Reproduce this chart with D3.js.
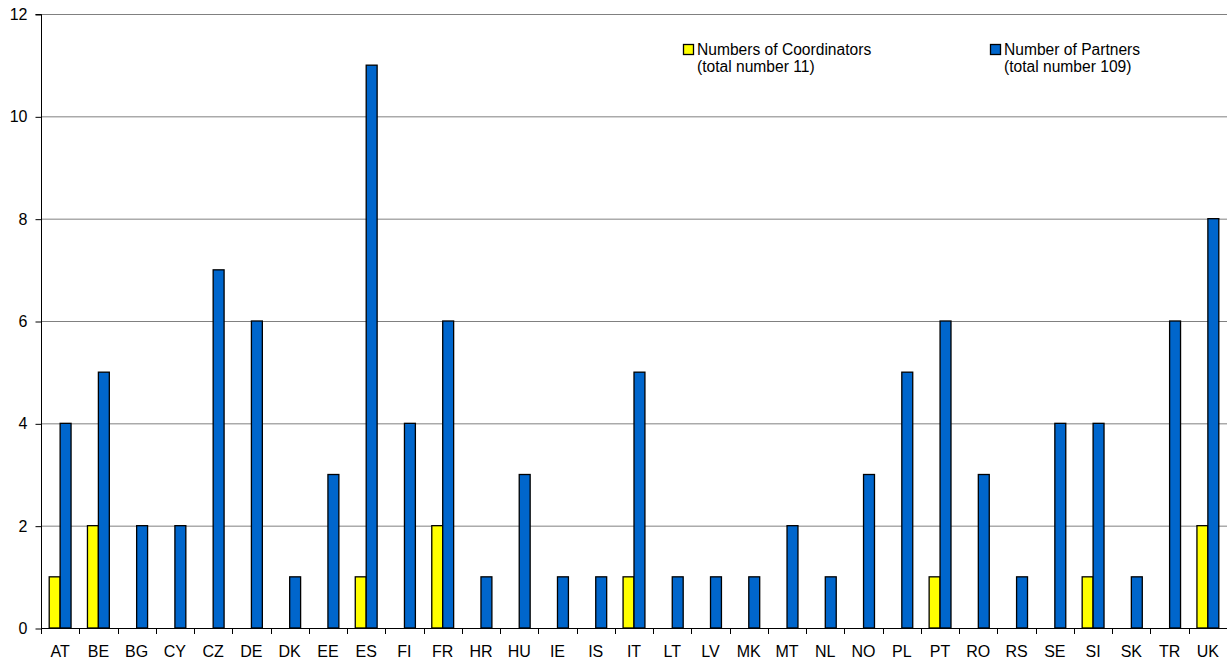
<!DOCTYPE html>
<html>
<head>
<meta charset="utf-8">
<script src="https://cdn.jsdelivr.net/npm/d3@7.9.0/dist/d3.min.js"></script>
<style>
  body { margin: 0; background: #fff; }
  svg { display: block; font-family: "Liberation Sans", Arial, sans-serif; }
</style>
</head>
<body>
<svg width="1228" height="664"></svg>
<script>
const countries = ['AT','BE','BG','CY','CZ','DE','DK','EE','ES','FI','FR','HR','HU','IE','IS','IT','LT','LV','MK','MT','NL','NO','PL','PT','RO','RS','SE','SI','SK','TR','UK'];
const coordinators = [1,2,0,0,0,0,0,0,1,0,2,0,0,0,0,1,0,0,0,0,0,0,0,1,0,0,0,1,0,0,2];
const partners = [4,5,2,2,7,6,1,3,11,4,6,1,3,1,1,5,1,1,1,2,1,3,5,6,3,1,4,4,1,6,8];
const yTicks = [0,2,4,6,8,10,12];
const seriesNames = ['coord','partners'];
const seriesColors = ['#ffff00','#0066cc'];
const legendLines = [
  ['Numbers of Coordinators','(total number 11)'],
  ['Number of Partners','(total number 109)']
];

const svg = d3.select('svg');
const plotL = 41, plotR = 1227, plotT = 14, plotB = 628;

const x = d3.scaleBand().domain(countries).range([plotL, plotR]);
const xs = d3.scaleBand().domain(seriesNames).range([0, x.bandwidth()]).paddingInner(0).paddingOuter(0.75);
const y = d3.scaleLinear().domain([0, 12]).range([plotB, plotT]);

// gridlines
svg.append('g').selectAll('line').data(yTicks.filter(d => d > 0)).join('line')
  .attr('x1', plotL).attr('x2', plotR)
  .attr('y1', d => y(d) + 0.5).attr('y2', d => y(d) + 0.5)
  .attr('stroke', '#808080').attr('stroke-width', 1);

// bars
const data = countries.map((c, i) => ({c, vals: [coordinators[i], partners[i]]}));
const groups = svg.append('g').selectAll('g').data(data).join('g')
  .attr('transform', d => `translate(${x(d.c)},0)`);
groups.selectAll('rect')
  .data(d => d.vals.map((v, j) => ({v, s: seriesNames[j], col: seriesColors[j]})).filter(e => e.v > 0))
  .join('rect')
  .attr('x', d => xs(d.s))
  .attr('width', xs.bandwidth())
  .attr('y', d => y(d.v))
  .attr('height', d => y(0) - y(d.v))
  .attr('fill', d => d.col)
  .attr('stroke', '#000').attr('stroke-width', 1.3);

// y axis
const yAxis = svg.append('g').attr('transform', `translate(${plotL + 0.5},0.5)`)
  .call(d3.axisLeft(y).tickValues(yTicks).tickSize(6).tickPadding(8));
yAxis.select('.domain').attr('stroke', '#000').attr('d', `M-6,${y(12)}H0V${y(0)}`);
yAxis.selectAll('.tick line').attr('stroke', '#000');
yAxis.selectAll('.tick text').attr('font-size', 16).attr('fill', '#000').attr('font-family', '"Liberation Sans", Arial, sans-serif');

// x axis line and ticks at band boundaries
svg.append('line').attr('x1', plotL).attr('x2', plotR).attr('y1', plotB + 0.5).attr('y2', plotB + 0.5).attr('stroke', '#000');
svg.append('g').selectAll('line').data(countries).join('line')
  .attr('x1', d => Math.round(x(d)) + 0.5).attr('x2', d => Math.round(x(d)) + 0.5)
  .attr('y1', plotB).attr('y2', plotB + 6).attr('stroke', '#000');
svg.append('g').selectAll('text').data(countries).join('text')
  .attr('x', d => x(d) + x.bandwidth() / 2)
  .attr('y', 657)
  .attr('text-anchor', 'middle')
  .attr('font-size', 16)
  .text(d => d);

// legend
const legendX = [683, 990];
legendLines.forEach((lines, i) => {
  const g = svg.append('g').attr('transform', `translate(${legendX[i]},44)`);
  g.append('rect').attr('x', 0.5).attr('y', 0.5).attr('width', 10).attr('height', 10)
    .attr('fill', seriesColors[i]).attr('stroke', '#000').attr('stroke-width', 1.3);
  g.append('text').attr('x', 14).attr('y', 11).attr('font-size', 15.6).text(lines[0]);
  g.append('text').attr('x', 14).attr('y', 28).attr('font-size', 15.6).text(lines[1]);
});
</script>
</body>
</html>
